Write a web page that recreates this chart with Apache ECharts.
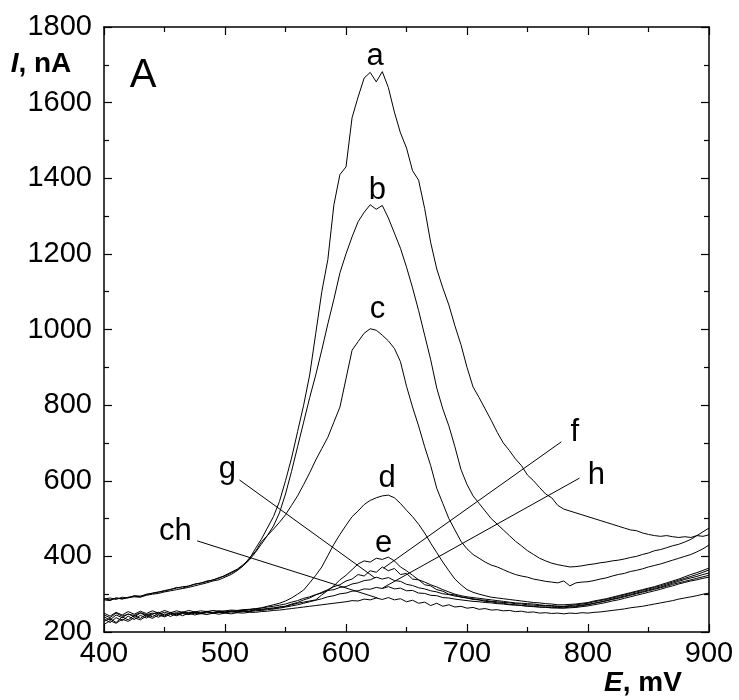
<!DOCTYPE html>
<html>
<head>
<meta charset="utf-8">
<script src="https://cdn.jsdelivr.net/npm/echarts@6/dist/echarts.min.js"></script>
<style>
  html, body { margin: 0; padding: 0; background: #fff; }
  #chart { width: 739px; height: 700px; }
</style>
</head>
<body>
<div id="chart"></div>
<script>
// Potential grid, mV
const potentials = [
  400, 405, 410, 415, 420, 425, 430, 435, 440, 445,
  450, 455, 460, 465, 470, 475, 480, 485, 490, 495,
  500, 505, 510, 515, 520, 525, 530, 535, 540, 545,
  550, 555, 560, 565, 570, 575, 580, 585, 590, 595,
  600, 605, 610, 615, 620, 625, 630, 635, 640, 645,
  650, 655, 660, 665, 670, 675, 680, 685, 690, 695,
  700, 705, 710, 715, 720, 725, 730, 735, 740, 745,
  750, 755, 760, 765, 770, 775, 780, 785, 790, 795,
  800, 805, 810, 815, 820, 825, 830, 835, 840, 845,
  850, 855, 860, 865, 870, 875, 880, 885, 890, 895,
  900
];

// Currents, nA
const curveA = [
  285, 283, 290, 288, 292, 295, 293, 300, 302, 305,
  310, 312, 318, 316, 322, 326, 330, 333, 338, 342,
  350, 358, 366, 378, 392, 420, 445, 475, 505, 545,
  600, 660, 730, 800, 880, 990, 1100, 1185, 1330, 1410,
  1430, 1560, 1615, 1665, 1680, 1655, 1682, 1640, 1575, 1520,
  1480, 1420, 1395, 1320, 1230, 1160, 1110, 1065, 1010, 960,
  900, 848, 820, 790, 760, 728, 700, 680, 658, 640,
  615, 600, 582, 565, 555, 535, 525, 520, 515, 510,
  505, 500, 495, 490, 485, 480, 475, 470, 468, 462,
  458, 455, 453, 455, 452, 450, 452, 450, 455, 453,
  457
];
const curveB = [
  287, 290, 286, 292, 290, 296, 295, 299, 303, 306,
  308, 313, 316, 320, 321, 327, 329, 335, 337, 344,
  348, 356, 364, 375, 390, 410, 432, 455, 480, 515,
  565, 625, 690, 755, 820, 880, 946, 1015, 1080, 1150,
  1200, 1245, 1285, 1310, 1330, 1318, 1328, 1295, 1255, 1215,
  1165, 1110, 1050, 985, 920, 845, 790, 745, 690, 630,
  590, 560, 540, 520, 500, 485, 470, 455, 440, 428,
  415, 405, 395, 388, 382, 378, 375, 372, 373, 375,
  378, 380, 383, 385, 388, 390, 393, 397, 400, 405,
  409, 415, 418, 423, 428, 432, 438, 445, 455, 465,
  475
];
const curveC = [
  288, 285, 290, 287, 291, 293, 292, 297, 300, 302,
  306, 309, 312, 315, 318, 322, 326, 330, 335, 338,
  345, 352, 362, 375, 395, 412, 438, 455, 472, 490,
  510, 535, 560, 590, 621, 655, 685, 715, 755, 795,
  870, 945, 968, 990, 1002, 998, 985, 970, 950, 915,
  850, 795, 745, 690, 640, 580, 540, 500, 470, 440,
  420, 405, 395, 385, 377, 372, 365, 358, 352, 348,
  345, 340, 337, 334, 332, 330, 335, 322, 330, 332,
  333, 336, 340, 343, 348, 352, 355, 360, 363, 367,
  372, 376, 380, 385, 390, 395, 400, 405, 412, 420,
  430
];
const curveD = [
  245, 238, 250, 242, 247, 244, 251, 246, 250, 247,
  252, 248, 251, 249, 252, 250, 251, 253, 252, 254,
  253, 255, 256, 258, 259, 261, 264, 268, 272, 276,
  282, 290, 300, 311, 330, 350, 372, 402, 432, 458,
  482, 505, 520, 537, 548, 555, 560, 562, 555, 540,
  522, 505, 485, 462, 435, 410, 385, 362, 340, 325,
  312, 305, 300, 296, 292, 290, 288, 286, 284, 282,
  280, 278, 277, 275, 274, 272, 272, 273, 274, 276,
  278, 282, 285, 288, 292, 296, 300, 304, 308, 312,
  316, 320, 325, 330, 335, 340, 346, 352, 357, 363,
  369
];
const curveE = [
  240, 232, 245, 238, 248, 240, 250, 243, 248, 252,
  245, 250, 247, 253, 249, 252, 250, 254, 251, 253,
  252, 255, 253, 256, 255, 258, 260, 262, 264, 266,
  268, 272, 276, 279, 282, 285, 298, 310, 322, 338,
  350, 365, 380, 388, 385, 395, 392, 398, 388, 372,
  362, 350, 338, 332, 325, 319, 312, 306, 300, 296,
  293, 291, 289, 287, 285, 283, 281, 279, 277, 276,
  275, 274, 272, 270, 270, 268, 268, 270, 272, 274,
  276, 280, 283, 286, 290, 294, 298, 302, 306, 310,
  314, 318, 322, 327, 332, 337, 342, 347, 352, 358,
  364
];
const curveF = [
  228, 236, 225, 240, 232, 244, 236, 247, 240, 250,
  242, 252, 245, 253, 247, 254, 249, 255, 250, 256,
  252, 255, 253, 257, 255, 259, 258, 262, 261, 266,
  268, 274, 278, 285, 290, 298, 305, 312, 320, 325,
  335, 340, 352, 348, 362, 358, 372, 362, 368, 352,
  355, 340, 338, 325, 322, 312, 308, 300, 298, 292,
  290, 286, 285, 281, 280, 277, 276, 273, 272, 270,
  269, 268, 266, 266, 264, 265, 264, 266, 267, 270,
  272, 276, 279, 283, 287, 291, 295, 299, 303, 307,
  311, 315, 319, 324, 329, 334, 339, 343, 347, 352,
  356
];
const curveG = [
  250, 242, 252, 245, 254, 247, 255, 249, 256, 250,
  257, 251, 256, 252, 257, 253, 256, 254, 257, 255,
  256, 258, 257, 259, 260, 262, 263, 266, 268, 271,
  274, 279, 283, 289, 293, 299, 303, 310, 312, 318,
  320, 327, 330, 336, 338, 345, 340, 344, 336, 334,
  326, 323, 317, 314, 309, 306, 301, 299, 295, 293,
  290, 288, 285, 284, 281, 280, 278, 277, 275, 274,
  272, 271, 270, 269, 268, 268, 267, 268, 269, 271,
  273, 276, 279, 282, 286, 289, 293, 297, 301, 305,
  309, 313, 317, 321, 326, 330, 334, 338, 342, 346,
  350
];
const curveH = [
  220, 230, 223, 234, 228, 238, 232, 242, 236, 245,
  240, 247, 243, 249, 246, 250, 248, 251, 250, 252,
  251, 253, 252, 254, 254, 256, 257, 259, 261, 263,
  266, 269, 272, 276, 280, 284, 288, 293, 296, 301,
  303, 308, 309, 314, 313, 318, 315, 320, 314, 316,
  309, 310, 303, 302, 297, 296, 291, 290, 287, 285,
  283, 281, 280, 278, 277, 275, 274, 272, 271, 270,
  268, 267, 266, 265, 264, 263, 263, 264, 265, 267,
  269, 272, 275, 278, 282, 285, 289, 293, 297, 301,
  305, 309, 313, 318, 322, 327, 331, 335, 338, 342,
  345
];
const curveCh = [
  235, 225, 238, 230, 242, 233, 244, 237, 246, 239,
  248, 241, 249, 243, 250, 245, 249, 246, 250, 247,
  250, 248, 251, 250, 252, 252, 254, 255, 257, 258,
  260, 262, 264, 266, 268, 270, 272, 274, 276, 278,
  280, 283, 282, 287, 285, 290, 286, 291, 285, 288,
  280, 284, 276, 279, 270, 276, 268, 272, 266, 268,
  263, 265, 260, 262, 258, 259, 256, 257, 254, 255,
  252, 253, 250, 251, 249, 250, 248, 250, 249, 251,
  250, 252, 253, 255, 257, 259, 261, 264, 266, 268,
  271, 274, 277, 280, 283, 287, 290, 293, 296, 300,
  303
];

const curveNames = ['a', 'b', 'c', 'd', 'e', 'f', 'g', 'h', 'ch'];
const curveValues = [curveA, curveB, curveC, curveD, curveE, curveF, curveG, curveH, curveCh];

// Curve tags: [potential, current] anchor of each letter
const tagNames = ['a', 'b', 'c', 'd', 'e', 'f', 'h', 'g', 'ch'];
const tagPotentials = [624, 626, 626, 634, 631, 789, 807, 502, 459];
const tagCurrents = [1721, 1369, 1052, 607, 435, 729, 615, 629, 465];

// Leader lines: from tag to curve
const leaderFrom = [[778, 703], [793, 607], [512, 602], [477, 441]];
const leaderTo = [[631, 369], [630, 316], [624, 343], [626, 290]];

const FONT = '"Liberation Sans", Arial, Helvetica, sans-serif';

const chart = echarts.init(document.getElementById('chart'), null, { renderer: 'canvas' });

const axisLineStyle = { color: '#000', width: 1.5 };
const plainNumber = function (v) { return String(v); };

function makeX(position, showLabels) {
  return {
    type: 'value', position: position, min: 400, max: 900, interval: 100,
    axisLine: { show: true, onZero: false, lineStyle: axisLineStyle },
    axisTick: { show: true, inside: true, length: 8, lineStyle: { color: '#000', width: 1.2 } },
    minorTick: { show: true, splitNumber: 2, length: 5, lineStyle: { color: '#000', width: 1.2 } },
    axisLabel: { show: showLabels, color: '#000', fontSize: 29, fontFamily: FONT, margin: 7, formatter: plainNumber },
    splitLine: { show: false }
  };
}
function makeY(position, showLabels) {
  return {
    type: 'value', position: position, min: 200, max: 1800, interval: 200,
    axisLine: { show: true, onZero: false, lineStyle: axisLineStyle },
    axisTick: { show: true, inside: true, length: 8, lineStyle: { color: '#000', width: 1.2 } },
    minorTick: { show: true, splitNumber: 2, length: 5, lineStyle: { color: '#000', width: 1.2 } },
    axisLabel: { show: showLabels, color: '#000', fontSize: 29, fontFamily: FONT, margin: 12, formatter: plainNumber },
    splitLine: { show: false }
  };
}

const series = curveValues.map(function (vals, i) {
  return {
    name: curveNames[i],
    type: 'line',
    xAxisIndex: 0, yAxisIndex: 0,
    showSymbol: false,
    symbol: 'none',
    silent: true,
    lineStyle: { color: '#000', width: 1 },
    data: vals.map(function (v, k) { return [potentials[k], v]; }),
    z: 3
  };
});

// Arrowed leader lines
series.push({
  type: 'line', xAxisIndex: 0, yAxisIndex: 0, data: [], silent: true,
  markLine: {
    silent: true,
    symbol: ['none', 'arrow'],
    symbolSize: [0, 6],
    label: { show: false },
    lineStyle: { color: '#000', width: 1, type: 'solid' },
    data: leaderFrom.map(function (p, i) {
      return [{ coord: p }, { coord: leaderTo[i] }];
    })
  }
});

// Curve letters
series.push({
  type: 'scatter', xAxisIndex: 0, yAxisIndex: 0, silent: true,
  symbolSize: 0,
  itemStyle: { opacity: 1, color: '#000' },
  label: {
    show: true, position: 'inside', formatter: '{b}',
    color: '#000', fontSize: 31, fontFamily: FONT,
    textBorderWidth: 0, opacity: 1
  },
  data: tagNames.map(function (n, i) {
    return { name: n, value: [tagPotentials[i], tagCurrents[i]] };
  }),
  z: 5
});

chart.setOption({
  animation: false,
  backgroundColor: '#fff',
  grid: { left: 104, right: 30, top: 27, bottom: 68, containLabel: false },
  xAxis: [makeX('bottom', true), makeX('top', false)],
  yAxis: [makeY('left', true), makeY('right', false)],
  series: series,
  graphic: [
    {
      type: 'text', x: 143, y: 76,
      style: { text: 'A', fontSize: 40, fontFamily: FONT, fill: '#000', align: 'center', verticalAlign: 'middle' }
    },
    {
      type: 'text', x: 41, y: 64,
      style: {
        text: '{i|I}{r|, nA}',
        align: 'center', verticalAlign: 'middle',
        rich: {
          i: { fontSize: 28, fontWeight: 'bold', fontStyle: 'italic', fontFamily: FONT, fill: '#000' },
          r: { fontSize: 28, fontWeight: 'bold', fontFamily: FONT, fill: '#000' }
        }
      }
    },
    {
      type: 'text', x: 643, y: 683,
      style: {
        text: '{i|E}{r|, mV}',
        align: 'center', verticalAlign: 'middle',
        rich: {
          i: { fontSize: 28, fontWeight: 'bold', fontStyle: 'italic', fontFamily: FONT, fill: '#000' },
          r: { fontSize: 28, fontWeight: 'bold', fontFamily: FONT, fill: '#000' }
        }
      }
    }
  ]
});
</script>
</body>
</html>
